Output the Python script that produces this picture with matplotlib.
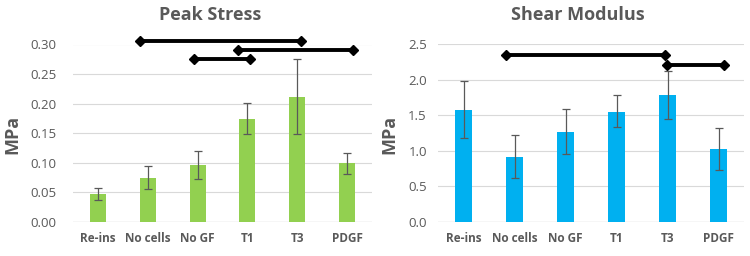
import matplotlib
matplotlib.use("Agg")
import matplotlib.pyplot as plt
import numpy as np

categories = ["Re-ins", "No cells", "No GF", "T1", "T3", "PDGF"]

peak_mean = [0.047, 0.075, 0.096, 0.174, 0.212, 0.099]
peak_low = [0.037, 0.055, 0.072, 0.148, 0.149, 0.081]
peak_high = [0.058, 0.095, 0.120, 0.201, 0.275, 0.116]
peak_sig = [(0.85, 4.07, 0.306), (1.92, 3.06, 0.275), (2.82, 5.12, 0.291)]

shear_mean = [1.58, 0.92, 1.27, 1.55, 1.79, 1.02]
shear_low = [1.18, 0.62, 0.95, 1.33, 1.45, 0.73]
shear_high = [1.99, 1.22, 1.59, 1.78, 2.12, 1.32]
shear_sig = [(0.84, 3.96, 2.35), (3.99, 5.10, 2.21)]

plt.rcParams['font.family'] = ['Open Sans', 'DejaVu Sans']
GRAY = "#595959"

fig = plt.figure(figsize=(7.5, 2.56), dpi=100)
W, H = 750, 256

def make_ax(x0, x1, ytop, ybot):
    return fig.add_axes([x0 / W, 1 - ybot / H, (x1 - x0) / W, (ybot - ytop) / H])

ax1 = make_ax(73, 372, 44.5, 222)
ax2 = make_ax(438, 744, 44.3, 222)

def draw(ax, mean, low, high, sig, color, ymax, step, fmt, title, title_x,
         ypad, ylabel_x):
    x = np.arange(len(categories))
    mean = np.array(mean); low = np.array(low); high = np.array(high)
    ax.bar(x, mean, width=0.32, color=color, zorder=2)
    ax.errorbar(x, mean, yerr=[mean - low, high - mean], fmt="none",
                ecolor=GRAY, elinewidth=0.9, capsize=3, capthick=0.9, zorder=3)
    ax.set_xlim(-0.5, len(categories) - 0.5)
    ax.set_ylim(0, ymax)
    ticks = np.arange(0, ymax + step / 2, step)
    ax.set_yticks(ticks)
    ax.set_yticklabels([fmt.format(t) for t in ticks], color=GRAY, fontsize=9.5)
    ax.set_xticks(x)
    ax.set_xticklabels(categories, color=GRAY, fontsize=8.5, fontweight="bold")
    ax.tick_params(axis="y", length=0, pad=ypad)
    ax.tick_params(axis="x", length=0, pad=7)
    for s in ax.spines.values():
        s.set_visible(False)
    ax.grid(axis="y", color="#D9D9D9", linewidth=0.8, zorder=0)
    ax.set_axisbelow(True)
    ax.axhline(0, color="#D0D0D0", linewidth=0.9, zorder=1)
    ax.set_ylabel("MPa", color=GRAY, fontsize=13, fontweight="bold")
    ax.yaxis.set_label_coords(ylabel_x, 0.5, transform=fig.transFigure)
    for a, b, y in sig:
        ax.plot([a, b], [y, y], color="black", linewidth=2.8, marker="D",
                markersize=5.5, markerfacecolor="black", markeredgecolor="black",
                clip_on=False, zorder=5, solid_capstyle="butt")
    fig.text(title_x / W, 1 - 15 / H, title, ha="center", va="center",
             color=GRAY, fontsize=13, fontweight="bold")

draw(ax1, peak_mean, peak_low, peak_high, peak_sig, "#92D050", 0.30, 0.05,
     "{:.2f}", "Peak Stress", 210, 12, 12.5 / W)
draw(ax2, shear_mean, shear_low, shear_high, shear_sig, "#00B0F0", 2.5, 0.5,
     "{:.1f}", "Shear Modulus", 578, 8, 389 / W)
ax1.yaxis.label.set_va("center")
ax2.yaxis.label.set_va("center")
ax1.yaxis.set_label_coords(12.5 / W, 1 - 134 / H, transform=fig.transFigure)
ax2.yaxis.set_label_coords(389 / W, 1 - 134 / H, transform=fig.transFigure)

fig.savefig("out.png", dpi=100)
